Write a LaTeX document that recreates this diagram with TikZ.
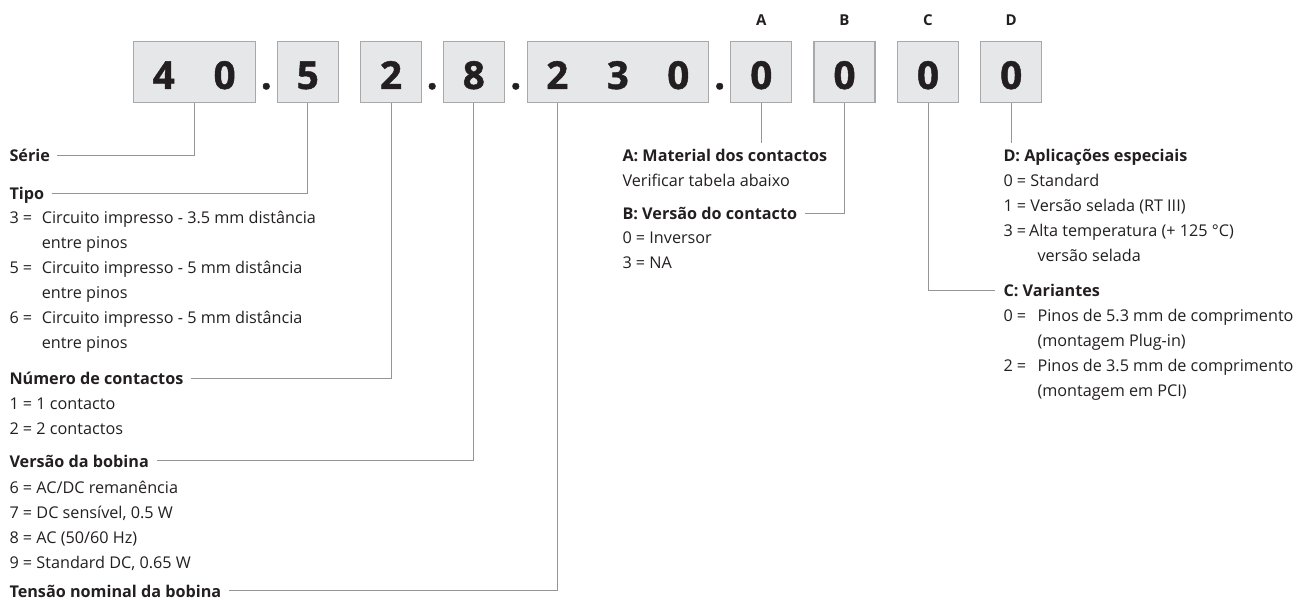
\documentclass[tikz,border=0pt]{standalone}
\usepackage{fontspec}
\setmainfont{Open Sans}
\usetikzlibrary{calc}
\definecolor{txt}{HTML}{231F20}
\definecolor{boxfill}{HTML}{E6E7E8}
\definecolor{boxline}{HTML}{A7A9AC}
\definecolor{connc}{HTML}{939598}
\newcommand\hangit[3][32.4pt]{\makebox[#1][l]{#2}#3}
\newcommand\cont[2][32.4pt]{\hspace*{#1}#2}
\begin{document}
\begin{tikzpicture}[x=1pt,y=-1pt,
  box/.style={draw=boxline, fill=boxfill, line width=1.1pt, minimum height=60.6pt, minimum width=61pt, inner sep=0pt},
  digit/.style={font=\fontsize{38.6}{38}\selectfont\bfseries\addfontfeatures{FakeBold=1.2}, text=txt, inner sep=0pt, anchor=base},
  letter/.style={font=\fontsize{15}{15}\selectfont\bfseries, text=txt, inner sep=0pt, anchor=base},
  head/.style={font=\fontsize{16.2}{18}\selectfont\bfseries, text=txt, inner sep=0pt, anchor=base west},
  body/.style={font=\fontsize{16.2}{25}\selectfont, text=txt, inner sep=0pt, anchor=base west},
  conn/.style={draw=connc, line width=1pt}]
\useasboundingbox (0,0) rectangle (1302,601);

% boxes
\node[box, minimum width=121.7pt] (b40) at (194.2,72) {};
\node[box] (b5) at (307.8,72) {};
\node[box] (b2) at (391,72) {};
\node[box] (b8) at (473.8,72) {};
\node[box, minimum width=181pt] (b230) at (617.8,72) {};
\node[box] (bA) at (761.3,72) {};
\node[box] (bB) at (844.5,72) {};
\node[box] (bC) at (928,72) {};
\node[box] (bD) at (1011.2,72) {};

% digits
\node[digit] (d4) at (163.8,89) {4};
\node[digit] (d0a) at (224.6,89) {0};
\node[digit] (d5) at (307.8,89) {5};
\node[digit] (d2) at (391,89) {2};
\node[digit] (d8) at (473.8,89) {8};
\node[digit] (d230a) at (557.3,89) {2};
\node[digit] (d230b) at (617.8,89) {3};
\node[digit] (d230c) at (678.3,89) {0};
\node[digit] (dA) at (761.3,89) {0};
\node[digit] (dB) at (844.5,89) {0};
\node[digit] (dC) at (928,89) {0};
\node[digit] (dD) at (1011.2,89) {0};

% dots
\node[digit] (p1) at (266.3,89) {.};
\node[digit] (p2) at (432.2,89) {.};
\node[digit] (p3) at (515.8,89) {.};
\node[digit] (p4) at (719.7,89) {.};

% letters
\node[letter] (lA) at (761.3,25.5) {A};
\node[letter] (lB) at (844.5,25.5) {B};
\node[letter] (lC) at (928,25.5) {C};
\node[letter] (lD) at (1011.2,25.5) {D};

% left column
\node[head] (serie) at (9.3,161.7) {Série};
\node[head] (tipo) at (9.3,200) {Tipo};
\node[body] (tipob) at (9.3,223.3) {\parbox[t]{400pt}{\hangit{3 =}{Circuito impresso - 3.5 mm distância}\\
\cont{entre pinos}\\
\hangit{5 =}{Circuito impresso - 5 mm distância}\\
\cont{entre pinos}\\
\hangit{6 =}{Circuito impresso - 5 mm distância}\\
\cont{entre pinos}}};
\node[head] (num) at (9.3,384.8) {Número de contactos};
\node[body] (numb) at (9.3,410) {\parbox[t]{300pt}{1 = 1 contacto\\2 = 2 contactos}};
\node[head] (bob) at (9.3,467.3) {Versão da bobina};
\node[body] (bobb) at (9.3,493.3) {\parbox[t]{300pt}{6 = AC/DC remanência\\
7 = DC sensível, 0.5 W\\
8 = AC (50/60 Hz)\\
9 = Standard DC, 0.65 W}};
\node[head] (ten) at (9.3,597) {Tensão nominal da bobina};

% middle column
\node[head] (ahead) at (622.3,161.7) {A: Material dos contactos};
\node[body] (abody) at (622.3,186.7) {Verificar tabela abaixo};
\node[head] (bhead) at (622.3,219.5) {B: Versão do contacto};
\node[body] (bbody) at (622.3,244) {\parbox[t]{200pt}{0 = Inversor\\3 = NA}};

% right column
\node[head] (dhead) at (1003.3,161.7) {D: Aplicações especiais};
\node[body] (dbody) at (1003.3,186.7) {\parbox[t]{290pt}{0 = Standard\\
1 = Versão selada (RT III)\\
\hangit[25.5pt]{3 =}{Alta temperatura (+ 125 °C)}\\
\cont[34pt]{versão selada}}};
\node[head] (chead) at (1003.3,296.5) {C: Variantes};
\node[body] (cbody) at (1003.3,321.7) {\parbox[t]{290pt}{\hangit[34pt]{0 =}{Pinos de 5.3 mm de comprimento}\\
\cont[34pt]{(montagem Plug-in)}\\
\hangit[34pt]{2 =}{Pinos de 3.5 mm de comprimento}\\
\cont[34pt]{(montagem em PCI)}}};

% free ends
\coordinate (aend) at (761.3,143.3);
\coordinate (dend) at (1011.2,143.3);

% connectors
\draw[conn] ([shift={(6.5,-6.3)}]serie.base east) -| (b40.south);
\draw[conn] ([shift={(7.5,-6.3)}]tipo.base east) -| (b5.south);
\draw[conn] ([shift={(7.5,-6.3)}]num.base east) -| (b2.south);
\draw[conn] ([shift={(7.5,-6.3)}]bob.base east) -| (b8.south);
\draw[conn] ([shift={(7.5,-6.3)}]ten.base east) -| (b230.south -| d230a);
\draw[conn] (bA.south) -- (aend);
\draw[conn] ([shift={(7.5,-6.3)}]bhead.base east) -| (bB.south);
\draw[conn] ([shift={(-8,-6.3)}]chead.base west) -| (bC.south);
\draw[conn] (bD.south) -- (dend);
\end{tikzpicture}
\end{document}
